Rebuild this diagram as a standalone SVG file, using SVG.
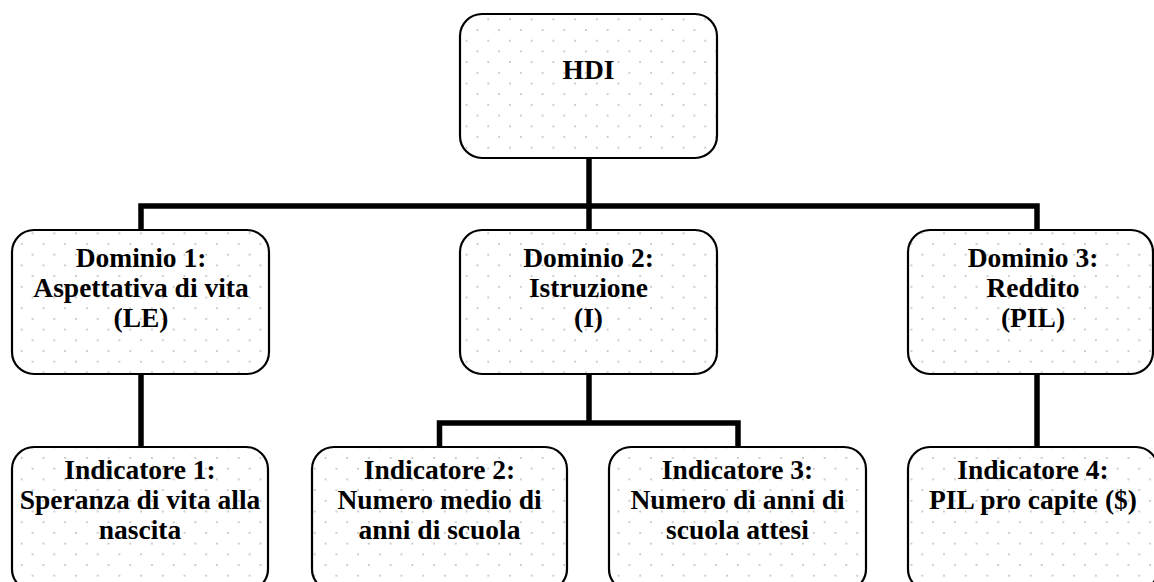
<svg xmlns="http://www.w3.org/2000/svg" width="1154" height="582" viewBox="0 0 1154 582">
<style>
.box{fill:url(#dots);stroke:#000;stroke-width:2.2}
.t{font-family:"Liberation Serif","Times New Roman",serif;font-weight:bold;font-size:27.5px;fill:#000;text-anchor:middle}
.c{fill:none;stroke:#000;stroke-width:5.5;stroke-linecap:butt;stroke-linejoin:miter}
</style>
<defs>
<pattern id="dots" patternUnits="userSpaceOnUse" x="488.3" y="19.3" width="21.7" height="21.4">
<rect width="21.7" height="21.4" fill="#fff"/>
<circle cx="0" cy="0" r="1" fill="#bdbdbd"/>
<circle cx="21.7" cy="0" r="1" fill="#bdbdbd"/>
<circle cx="0" cy="21.4" r="1" fill="#bdbdbd"/>
<circle cx="21.7" cy="21.4" r="1" fill="#bdbdbd"/>
<circle cx="10.85" cy="10.7" r="1" fill="#bdbdbd"/>
</pattern>
</defs>
<rect width="1154" height="582" fill="#fff"/>
<g id="connectors">
<path class="c" d="M589,158 V230"/>
<path class="c" d="M141,230 V206 H1037 V230"/>
<path class="c" d="M141,374 V447"/>
<path class="c" d="M589,374 V423"/>
<path class="c" d="M439.5,447 V423 H738 V447"/>
<path class="c" d="M1037,374 V447"/>
</g>
<g id="hdi">
<rect class="box" x="460" y="14" width="257" height="144" rx="22"/>
<text class="t" x="588.5" y="79">HDI</text>
</g>
<g id="dominio1">
<rect class="box" x="12" y="230" width="257" height="144" rx="22"/>
<text class="t" x="141" y="267">Dominio 1:</text>
<text class="t" x="141" y="297">Aspettativa di vita</text>
<text class="t" x="141" y="327">(LE)</text>
</g>
<g id="dominio2">
<rect class="box" x="460" y="230" width="257" height="144" rx="22"/>
<text class="t" x="588.5" y="267">Dominio 2:</text>
<text class="t" x="588.5" y="297">Istruzione</text>
<text class="t" x="588.5" y="327">(I)</text>
</g>
<g id="dominio3">
<rect class="box" x="908" y="230" width="245" height="144" rx="22"/>
<text class="t" x="1033" y="267">Dominio 3:</text>
<text class="t" x="1033" y="297">Reddito</text>
<text class="t" x="1033" y="327">(PIL)</text>
</g>
<g id="indicatore1">
<rect class="box" x="12" y="447" width="256" height="144" rx="22"/>
<text class="t" x="140" y="479">Indicatore 1:</text>
<text class="t" x="140" y="509">Speranza di vita alla</text>
<text class="t" x="140" y="539">nascita</text>
</g>
<g id="indicatore2">
<rect class="box" x="312" y="447" width="255" height="144" rx="22"/>
<text class="t" x="439.5" y="479">Indicatore 2:</text>
<text class="t" x="439.5" y="509">Numero medio di</text>
<text class="t" x="439.5" y="539">anni di scuola</text>
</g>
<g id="indicatore3">
<rect class="box" x="609" y="447" width="257" height="144" rx="22"/>
<text class="t" x="737.5" y="479">Indicatore 3:</text>
<text class="t" x="737.5" y="509">Numero di anni di</text>
<text class="t" x="737.5" y="539">scuola attesi</text>
</g>
<g id="indicatore4">
<rect class="box" x="908" y="447" width="250" height="144" rx="22"/>
<text class="t" x="1033" y="479">Indicatore 4:</text>
<text class="t" x="1033" y="509">PIL pro capite ($)</text>
</g>
</svg>
